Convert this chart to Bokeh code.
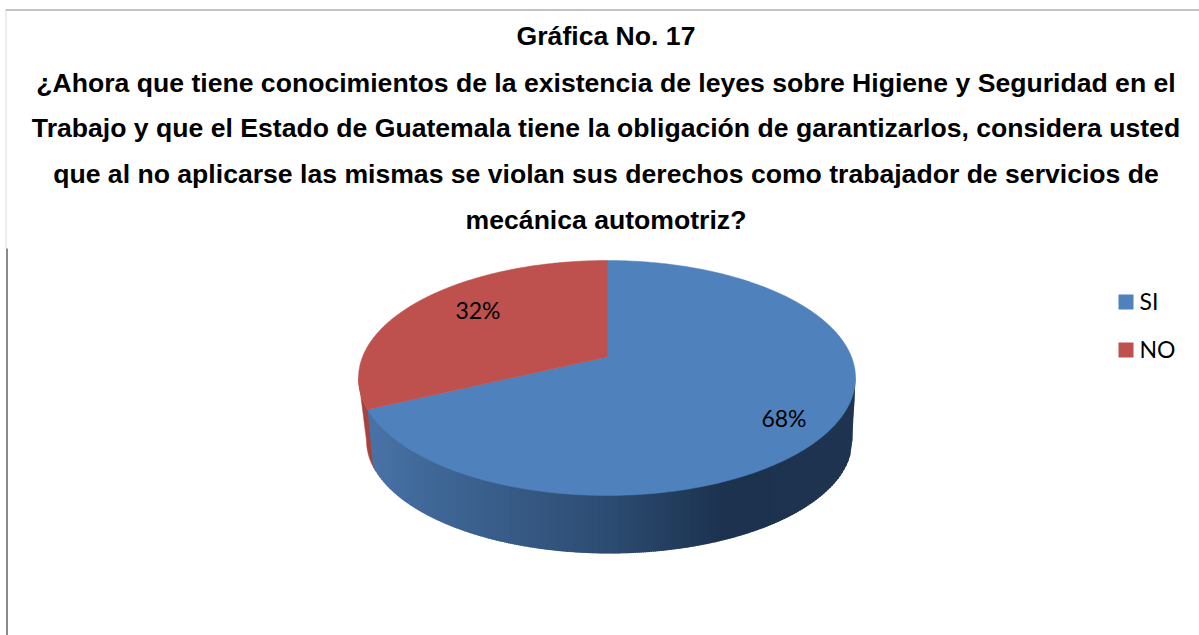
import numpy as np
from bokeh.plotting import figure
from bokeh.models import Range1d
from bokeh.core.properties import value
from bokeh.embed import file_html
from bokeh.resources import INLINE

categories = ["SI", "NO"]
shares = [68, 32]
labels = ["68%", "32%"]
title_lines = [
    "Gráfica No. 17",
    "¿Ahora que tiene conocimientos de la existencia de leyes sobre Higiene y Seguridad en el",
    "Trabajo y que el Estado de Guatemala tiene la obligación de garantizarlos, considera usted",
    "que al no aplicarse las mismas se violan sus derechos como trabajador de servicios de",
    "mecánica automotriz?",
]
colors = ["#4F81BD", "#BE504D"]

W, H = 1199, 635
p = figure(width=W, height=H, output_backend="svg", toolbar_location=None,
           x_range=Range1d(0, W), y_range=Range1d(H, 0),
           min_border=0, margin=(0, 0, 0, 0))
p.axis.visible = False
p.grid.visible = False
p.outline_line_color = None

# frame lines
p.segment([5], [9.5], [W], [9.5], line_color="#858585", line_width=1)
p.segment([5.5], [10], [5.5], [248], line_color="#dddddd", line_width=1)
p.segment([6.5], [248], [6.5], [H], line_color="#8a8a8a", line_width=2)

# perspective geometry of the pie
cx, cy, a, b = 606.5, 377.5, 248.5, 117.5
apex_up = 21.0
k = apex_up / b
A = a * np.sqrt(1 - k * k)

def rim(theta):
    u, v = np.sin(theta), np.cos(theta)
    d = 1 + k * v
    return cx + A * u / d, cy - (b * v + apex_up) / d

apex = (cx, cy - apex_up)
bcx, bcy, ba, bb = 609.0, 440.0, 243.0, 113.0

def top_low(x):
    return cy + b * np.sqrt(np.clip(1 - ((x - cx) / a) ** 2, 0, 1))

def bot_low(x):
    return bcy + bb * np.sqrt(np.clip(1 - ((x - bcx) / ba) ** 2, 0, 1))

def side_bottom(x):
    x = np.asarray(x, dtype=float)
    y = bot_low(x)
    right = bcx + ba
    left = bcx - ba
    y = np.where(x > right, cy + (bcy - cy) * (cx + a - x) / (cx + a - right), y)
    y = np.where(x < left, cy + (bcy - cy) * (x - (cx - a)) / (left - (cx - a)), y)
    return y

fractions = np.array(shares, dtype=float) / sum(shares)
split = 2 * np.pi * fractions[0]
sx, sy = rim(split)

# red side
xs_side = np.linspace(cx - a, sx + 8, 40)
p.patch(np.r_[xs_side, xs_side[::-1]], np.r_[top_low(xs_side), side_bottom(xs_side)[::-1]],
        fill_color="#A5433F", line_color="#A5433F", line_width=0.5)

# blue side: shaded strips
stops_x = [sx, 430, 520, 610, 700, 730, cx + a]
stops_c = np.array([[0x4A, 0x74, 0xA8], [0x40, 0x68, 0x98], [0x37, 0x5A, 0x85], [0x2D, 0x4C, 0x72],
                    [0x20, 0x38, 0x56], [0x1C, 0x32, 0x4E], [0x1F, 0x35, 0x52]], dtype=float)
edges = np.linspace(sx + 5.5, cx + a, 244)
strip_x, strip_y, strip_c = [], [], []
for x0, x1 in zip(edges[:-1], edges[1:]):
    xxc = np.array([x0, min(x1 + 1.0, cx + a)])
    b0 = np.array(side_bottom(xxc), dtype=float)
    t0 = top_low(xxc) - 2
    strip_x.append([xxc[0], xxc[1], xxc[1], xxc[0]])
    strip_y.append([t0[0], t0[1], b0[1], b0[0]])
    mid = (x0 + x1) / 2
    c = [np.interp(mid, stops_x, stops_c[:, i]) for i in range(3)]
    strip_c.append("#%02x%02x%02x" % tuple(int(v) for v in c))
p.patches(strip_x, strip_y, fill_color=strip_c, line_color=None)

# blue wedge between the rim point and the slanted slice edge
xx = np.array([sx, sx + 5.5, sx + 5.5])
p.patch(xx, [sy, sy + 57, sy], fill_color=strip_c[0], line_color=None)

# top faces
start = 0.0
for frac, col in zip(fractions, colors):
    th = np.linspace(start, start + 2 * np.pi * frac, 240)
    rx, ry = rim(th)
    p.patch(np.r_[apex[0], rx], np.r_[apex[1], ry], fill_color=col, line_color=col, line_width=0.5)
    start += 2 * np.pi * frac

# data labels
p.text([783.5, 477.5], [417.5, 309.5], text=labels, text_font=value("Lato"), text_font_size="23px",
       text_color="#000000", text_align="center", text_baseline="middle")

# legend
p.rect([1125.5, 1125.5], [301.5, 349.5], width=15, height=15, fill_color=colors, line_color=None)
p.text([1139, 1139], [300.5, 348.5], text=categories, text_font=value("Lato"), text_font_size="23px",
       text_color="#000000", text_align="left", text_baseline="middle")

# title
ys = [35.5, 82.5, 127.5, 173.5, 219.5]
p.text([605.5] * 5, ys, text=title_lines, text_font=value("Liberation Sans"), text_font_size="26.6px",
       text_font_style="bold", text_color="#000000", text_align="center", text_baseline="middle")

open("out.html", "w").write(file_html(p, INLINE))
